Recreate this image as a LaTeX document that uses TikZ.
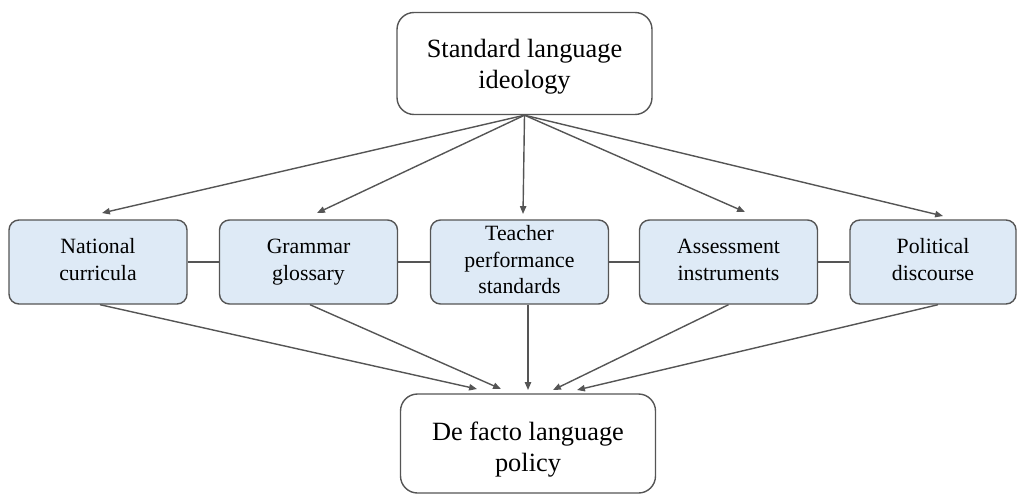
\documentclass[tikz,border=0pt]{standalone}
\usepackage{fontspec}
\setmainfont{Liberation Serif}
\usetikzlibrary{arrows.meta}

\definecolor{boxblue}{RGB}{222,234,246}
\definecolor{edgegray}{RGB}{85,85,85}

\tikzset{
  bigbox/.style={draw=edgegray, line width=0.8pt, rounded corners=0.34cm, fill=white,
    minimum width=5.1cm, minimum height=2.04cm, align=center,
    font=\fontsize{15}{17.5}\selectfont},
  midbox/.style={draw=edgegray, line width=0.8pt, rounded corners=0.2cm, fill=boxblue,
    minimum width=3.56cm, minimum height=1.68cm, align=center, inner ysep=0pt,
    font=\fontsize{12.4}{15.3}\selectfont,
    execute at begin node=\rule{0pt}{14pt},
    execute at end node=\rule[-2.8pt]{0pt}{2.8pt}},
  link/.style={draw=edgegray, line width=0.8pt},
  feed/.style={link, -{Triangle[length=4.5pt,width=3.6pt]}}
}

\begin{document}
\begin{tikzpicture}
        \useasboundingbox (0,0) rectangle (20.36,-9.9);

        % Top and bottom boxes
        \node[bigbox] (ideology) at (10.49,-1.27) {\rule{0pt}{14pt}Standard language\\ideology};
        \node[bigbox, minimum height=1.98cm] (policy) at (10.56,-8.87) {\rule{0pt}{17.5pt}De facto language\\policy};

        % Define the five domains
        \node[midbox] (nat) at (1.96,-5.24) {National\\curricula};
        \node[midbox] (gram) at (6.17,-5.24) {Grammar\\glossary};
        \node[midbox] (teach) at (10.39,-5.24) {Teacher\\performance\\standards};
        \node[midbox] (assess) at (14.57,-5.24) {Assessment\\instruments};
        \node[midbox, minimum width=3.32cm] (pol) at (18.66,-5.24) {Political\\discourse};

        % Arrow targets above the domains
        \coordinate (t1) at (2.04,-4.26);
        \coordinate (t2) at (6.34,-4.26);
        \coordinate (t3) at (10.46,-4.28);
        \coordinate (t4) at (14.90,-4.24);
        \coordinate (t5) at (18.86,-4.32);

        % Arrow targets above the policy box
        \coordinate (p1) at (9.54,-7.78);
        \coordinate (p2) at (10.02,-7.78);
        \coordinate (p3) at (10.56,-7.80);
        \coordinate (p4) at (11.06,-7.80);
        \coordinate (p5) at (11.54,-7.80);

        % Links between neighbouring domains
        \draw[link] (nat) -- (gram);
        \draw[link] (gram) -- (teach);
        \draw[link] (teach) -- (assess);
        \draw[link] (assess) -- (pol);

        % Ideology feeds every domain
        \draw[feed] (ideology.south) -- (t1);
        \draw[feed] (ideology.south) -- (t2);
        \draw[feed] (ideology.south) -- (t3);
        \draw[feed] (ideology.south) -- (t4);
        \draw[feed] (ideology.south) -- (t5);

        % Domains feed the de facto policy
        \draw[feed] ([xshift=0.04cm]nat.south) -- (p1);
        \draw[feed] ([xshift=0.03cm]gram.south) -- (p2);
        \draw[feed] ([xshift=0.17cm]teach.south) -- (p3);
        \draw[feed] (assess.south) -- (p4);
        \draw[feed] ([xshift=0.1cm]pol.south) -- (p5);
    \end{tikzpicture}
\end{document}
